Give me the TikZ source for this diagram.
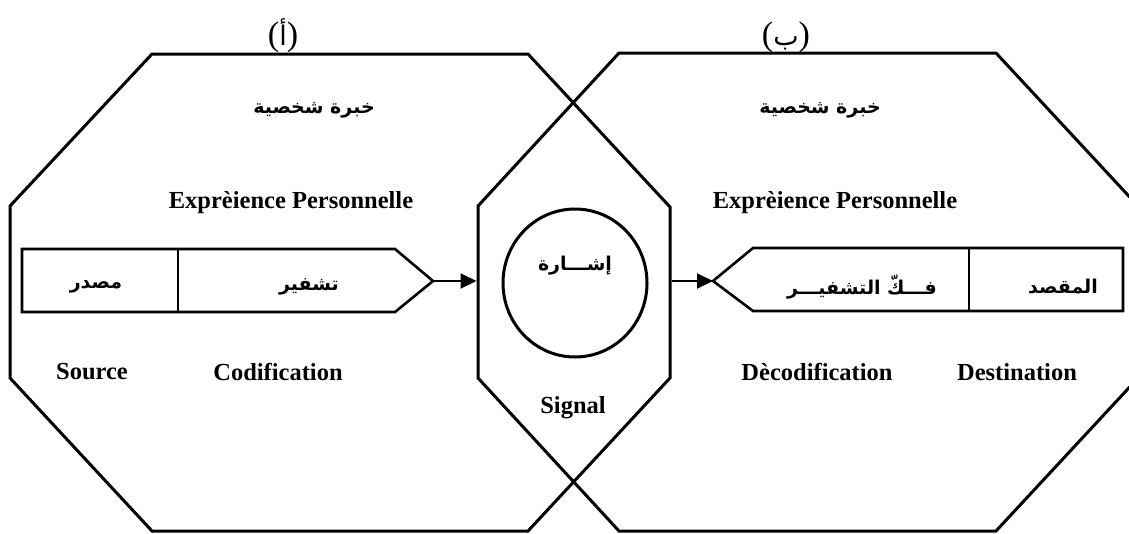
\documentclass[tikz,border=0pt]{standalone}
\usepackage{fontspec}
\setmainfont{Liberation Serif}
\newfontfamily\arabicfont[Script=Arabic]{DejaVu Sans}
\TeXXeTstate=1
\usetikzlibrary{arrows.meta,shapes.geometric}
\tikzset{
  frame/.style={draw, line width=3pt, line join=miter},
  boxline/.style={draw, line width=2.6pt, line join=miter},
  lat/.style={font=\bfseries\fontsize{24.5}{28}\selectfont, inner sep=0pt},
  ar/.style={font=\arabicfont\bfseries\fontsize{19}{23}\selectfont, inner sep=0pt},
  conn/.style={line width=2pt, -{Triangle[length=16pt,width=15pt]}},
  paren/.style={font=\fontsize{34}{38}\selectfont, inner sep=0pt, anchor=base}
}
\begin{document}
\begin{tikzpicture}[x=1pt, y=-1pt]
\useasboundingbox (0,0) rectangle (1129,533);
% octagons
\draw[frame] (152,54) -- (528,54) -- (670,207) -- (670,378) -- (528,531) -- (152,531) -- (10,378) -- (10,206) -- cycle;
\draw[frame] (619,53) -- (996,53) -- (1138,206) -- (1138,378) -- (996,531) -- (619,531) -- (478,378) -- (478,206) -- cycle;
% left box
\draw[boxline] (22,249) -- (395,249) -- (433,281) -- (395,312) -- (22,312) -- cycle;
\draw[boxline] (178,249) -- (178,312);
% right box
\draw[boxline] (1123,248) -- (753,248) -- (713,281) -- (753,311) -- (1123,311) -- cycle;
\draw[boxline] (969,248) -- (969,311);
% signal ellipse
\node[ellipse, draw, line width=3pt, minimum width=144pt, minimum height=148pt, inner sep=0pt] (sig) at (575,283) {};
% connectors
\coordinate (ltip) at (433,281);
\coordinate (lin) at (476.5,281);
\coordinate (rout) at (671.5,281);
\coordinate (rtip) at (713,281);
\draw[conn] (ltip) -- (lin);
\draw[conn] (rout) -- (rtip);
% top labels
\node[paren] (la) at (283,45) {({\arabicfont\fontsize{27}{30}\selectfont أ})};
\node[paren] (lb) at (786,45) {({\arabicfont\fontsize{27}{30}\selectfont ب})};
% arabic texts
\node[ar] (khl) at (314,110) {\beginR خبرة شخصية\endR};
\node[ar] (khr) at (820,110) {\beginR خبرة شخصية\endR};
\node[ar] (msd) at (96,287) {\beginR مصدر\endR};
\node[ar] (tsh) at (309,287) {\beginR تشفير\endR};
\node[ar] (ish) at (575,266) {\beginR إشـــارة\endR};
\node[ar] (fak) at (862,287) {\beginR فـــكّ التشفيـــر\endR};
\node[ar] (mqs) at (1063,287) {\beginR المقصد\endR};
% latin texts
\node[lat] (expl) at (291,203) {Exprèience Personnelle};
\node[lat] (expr) at (835,203) {Exprèience Personnelle};
\node[lat] (src) at (92,372) {Source};
\node[lat] (cod) at (278,372) {Codification};
\node[lat] (dec) at (817,372) {Dècodification};
\node[lat] (dst) at (1017,372) {Destination};
\node[lat] (sgl) at (573,408) {Signal};
\end{tikzpicture}
\end{document}
